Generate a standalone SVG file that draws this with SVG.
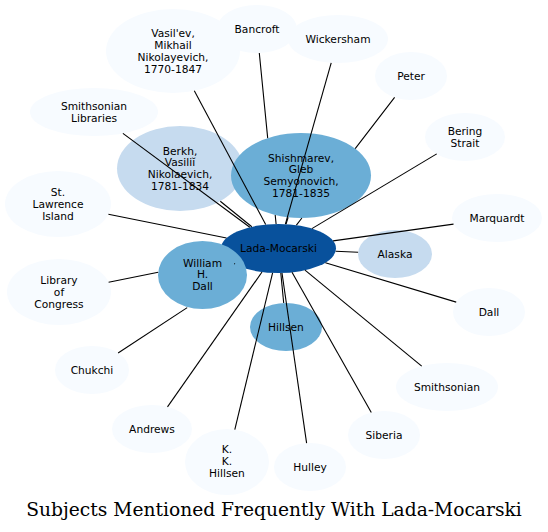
<svg xmlns="http://www.w3.org/2000/svg" width="548" height="532" viewBox="0 0 548 532">
<style>
.n0{fill:#f7fbff}
.n1{fill:#c6dbef}
.n2{fill:#6baed6}
.n3{fill:#08519c}
text{font-family:"DejaVu Sans","Liberation Sans",sans-serif;font-size:10.67px;text-anchor:middle;fill:#000}
.e path{fill:none;stroke:#000;stroke-width:1.1}
.title{font-family:"DejaVu Serif","Liberation Serif",serif;font-size:18.67px}
</style>
<rect width="548" height="532" fill="#fff"/>
<g id="nodes">
<g id="lada"><ellipse class="n3" cx="278.5" cy="248.5" rx="57.5" ry="24.5"/><text x="278.5" y="252.3">Lada-Mocarski</text></g>
<g id="vasilev"><ellipse class="n0" cx="173" cy="51" rx="67" ry="42"/><text x="173" y="37.1">Vasil'ev,</text><text x="173" y="48.9">Mikhail</text><text x="173" y="60.7">Nikolayevich,</text><text x="173" y="72.5">1770-1847</text></g>
<g id="bancroft"><ellipse class="n0" cx="257" cy="29" rx="40" ry="24"/><text x="257" y="32.8">Bancroft</text></g>
<g id="wickersham"><ellipse class="n0" cx="338" cy="39" rx="50" ry="24"/><text x="338" y="42.8">Wickersham</text></g>
<g id="peter"><ellipse class="n0" cx="411" cy="76" rx="36" ry="24"/><text x="411" y="79.8">Peter</text></g>
<g id="bering"><ellipse class="n0" cx="465" cy="137" rx="40" ry="24"/><text x="465" y="134.9">Bering</text><text x="465" y="146.7">Strait</text></g>
<g id="marquardt"><ellipse class="n0" cx="497" cy="218" rx="45" ry="24"/><text x="497" y="221.8">Marquardt</text></g>
<g id="alaska"><ellipse class="n1" cx="395" cy="254" rx="37" ry="24"/><text x="395" y="257.8">Alaska</text></g>
<g id="dall"><ellipse class="n0" cx="489" cy="312" rx="36" ry="24"/><text x="489" y="315.8">Dall</text></g>
<g id="smithsonian"><ellipse class="n0" cx="447" cy="387" rx="51" ry="24"/><text x="447" y="390.8">Smithsonian</text></g>
<g id="siberia"><ellipse class="n0" cx="384" cy="435" rx="36" ry="24"/><text x="384" y="438.8">Siberia</text></g>
<g id="hulley"><ellipse class="n0" cx="310" cy="467" rx="36" ry="24"/><text x="310" y="470.8">Hulley</text></g>
<g id="kkhillsen"><ellipse class="n0" cx="227" cy="462" rx="42" ry="33"/><text x="227" y="453">K.</text><text x="227" y="464.8">K.</text><text x="227" y="476.6">Hillsen</text></g>
<g id="andrews"><ellipse class="n0" cx="152" cy="429" rx="40" ry="24"/><text x="152" y="432.8">Andrews</text></g>
<g id="chukchi"><ellipse class="n0" cx="92" cy="370" rx="37" ry="24"/><text x="92" y="373.8">Chukchi</text></g>
<g id="loc"><ellipse class="n0" cx="59" cy="292" rx="52" ry="33"/><text x="59" y="284">Library</text><text x="59" y="295.8">of</text><text x="59" y="307.6">Congress</text></g>
<g id="stlawrence"><ellipse class="n0" cx="58" cy="204" rx="53" ry="33"/><text x="58" y="196">St.</text><text x="58" y="207.8">Lawrence</text><text x="58" y="219.6">Island</text></g>
<g id="smithlib"><ellipse class="n0" cx="94" cy="112" rx="64" ry="24"/><text x="94" y="109.9">Smithsonian</text><text x="94" y="121.7">Libraries</text></g>
<g id="berkh"><ellipse class="n1" cx="180" cy="168.5" rx="63" ry="42.5"/><text x="180" y="154.6">Berkh,</text><text x="180" y="166.4">Vasiliĭ</text><text x="180" y="178.2">Nikolaevich,</text><text x="180" y="190">1781-1834</text></g>
<g id="shishmarev"><ellipse class="n2" cx="301" cy="175.5" rx="70" ry="42.5"/><text x="301" y="161.6">Shishmarev,</text><text x="301" y="173.4">Gleb</text><text x="301" y="185.2">Semyonovich,</text><text x="301" y="197">1781-1835</text></g>
<g id="whdall"><ellipse class="n2" cx="202.5" cy="275" rx="44.5" ry="34"/><text x="202.5" y="266.5">William</text><text x="202.5" y="278.3">H.</text><text x="202.5" y="290.1">Dall</text></g>
<g id="hillsen"><ellipse class="n2" cx="286" cy="327" rx="36" ry="24"/><text x="286" y="330.8">Hillsen</text></g>
</g>
<g id="edges" class="e">
<path d="M194.3,90.8 L265.7,224.6"/>
<path d="M259.3,53 L267.7,138.1 M275.2,215 L276.1,224"/>
<path d="M331.2,62.8 L285.4,224.2"/>
<path d="M394.6,97.4 L355.2,148.6 M301.9,218 L296.4,225.2"/>
<path d="M436.7,153.9 L311.9,228.6"/>
<path d="M453.5,224.1 L333.1,240.9"/>
<path d="M358.1,252.3 L335.7,251.2"/>
<path d="M456.2,302.1 L325.4,262.7"/>
<path d="M421.7,366.2 L305,270.2"/>
<path d="M371.3,412.5 L292,272.3"/>
<path d="M306.6,443.1 L282,273"/>
<path d="M283.7,303 L280.8,273"/>
<path d="M234.8,429.6 L272.6,272.9"/>
<path d="M167.5,406.9 L262,272"/>
<path d="M118.1,353 L187.2,307.6"/>
<path d="M108.6,282.2 L158.2,272.3"/>
<path d="M108.4,214.2 L226.5,238"/>
<path d="M122.9,133.4 L249.8,227.3"/>
<path d="M220.3,201.2 L251.8,226.8"/>
<path d="M288.1,217.3 L286,224.2"/>
<path d="M234.3,263.6 L235,264"/>
</g>
<text class="title" x="274" y="516">Subjects Mentioned Frequently With Lada-Mocarski</text>
</svg>
